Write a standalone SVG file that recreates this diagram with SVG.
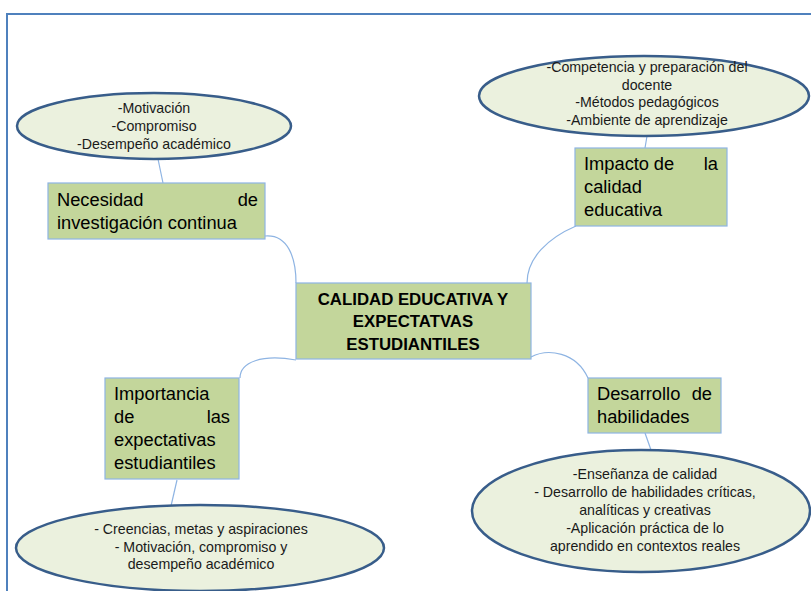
<svg xmlns="http://www.w3.org/2000/svg" width="811" height="591" viewBox="0 0 811 591">
<style>
.ell{fill:#ebf1de;stroke:#385d8a;stroke-width:2.5}
.box{fill:#c3d69b;stroke:#8eb4e3;stroke-width:1.2}
.con{fill:none;stroke:#8eb4e3;stroke-width:1.2}
.et{font-family:"Liberation Sans",Arial,sans-serif;font-size:14.2px;fill:#1a1a1a;text-anchor:middle}
.bt{font-family:"Liberation Sans",Arial,sans-serif;font-size:18.3px;fill:#000}
.ct{font-family:"Liberation Sans",Arial,sans-serif;font-size:16.8px;font-weight:bold;fill:#000;text-anchor:middle}
</style>
<rect x="0" y="0" width="811" height="591" fill="#fff"/>
<path d="M7,591 V14 H811" fill="none" stroke="#4f81bd" stroke-width="2"/>
<g id="connectors">
<path class="con" d="M158,159 L163,183"/>
<path class="con" d="M265,236 C288,234 296,258 296,283"/>
<path class="con" d="M647,136 L645,148"/>
<path class="con" d="M576,226 C548,238 527,258 527,283"/>
<path class="con" d="M240,378 C240,362 262,354 296,360"/>
<path class="con" d="M177,480 L171,506"/>
<path class="con" d="M531,357 C548,348 576,352 588,378"/>
<path class="con" d="M645,433 L651,450"/>
</g>
<g id="center">
<rect class="box" x="296" y="283" width="235" height="76"/>
<text class="ct" x="413" y="305">CALIDAD EDUCATIVA Y</text>
<text class="ct" x="413" y="327">EXPECTATVAS</text>
<text class="ct" x="413" y="350">ESTUDIANTILES</text>
</g>
<g id="ell1">
<ellipse class="ell" cx="154" cy="126" rx="137" ry="33"/>
<text class="et" x="154" y="113">-Motivación</text>
<text class="et" x="154" y="131">-Compromiso</text>
<text class="et" x="154" y="149">-Desempeño académico</text>
</g>
<g id="box1">
<rect class="box" x="48" y="183" width="217" height="56"/>
<text class="bt" x="57" y="206">Necesidad</text>
<text class="bt" x="258" y="206" text-anchor="end">de</text>
<text class="bt" x="57" y="229">investigación continua</text>
</g>
<g id="ell2">
<ellipse class="ell" cx="644" cy="96" rx="165" ry="40"/>
<text class="et" x="647" y="72">-Competencia y preparación del</text>
<text class="et" x="647" y="90">docente</text>
<text class="et" x="647" y="107">-Métodos pedagógicos</text>
<text class="et" x="647" y="125">-Ambiente de aprendizaje</text>
</g>
<g id="box2">
<rect class="box" x="575" y="148" width="152" height="78"/>
<text class="bt" x="584" y="170">Impacto</text>
<text class="bt" x="664" y="170" text-anchor="middle">de</text>
<text class="bt" x="718" y="170" text-anchor="end">la</text>
<text class="bt" x="584" y="193">calidad</text>
<text class="bt" x="584" y="216">educativa</text>
</g>
<g id="box3">
<rect class="box" x="105" y="378" width="134" height="101"/>
<text class="bt" x="114" y="400">Importancia</text>
<text class="bt" x="114" y="423">de</text>
<text class="bt" x="230" y="423" text-anchor="end">las</text>
<text class="bt" x="114" y="446">expectativas</text>
<text class="bt" x="114" y="469">estudiantiles</text>
</g>
<g id="ell3">
<ellipse class="ell" cx="200" cy="548" rx="184" ry="43"/>
<text class="et" x="201" y="534">- Creencias, metas y aspiraciones</text>
<text class="et" x="201" y="552">- Motivación, compromiso y</text>
<text class="et" x="201" y="569">desempeño académico</text>
</g>
<g id="box4">
<rect class="box" x="588" y="378" width="133" height="55"/>
<text class="bt" x="597" y="400">Desarrollo</text>
<text class="bt" x="712" y="400" text-anchor="end">de</text>
<text class="bt" x="597" y="423">habilidades</text>
</g>
<g id="ell4">
<ellipse class="ell" cx="641" cy="511" rx="169" ry="61"/>
<text class="et" x="645" y="479">-Enseñanza de calidad</text>
<text class="et" x="645" y="497">- Desarrollo de habilidades críticas,</text>
<text class="et" x="645" y="515">analíticas y creativas</text>
<text class="et" x="645" y="533">-Aplicación práctica de lo</text>
<text class="et" x="645" y="551">aprendido en contextos reales</text>
</g>
</svg>
